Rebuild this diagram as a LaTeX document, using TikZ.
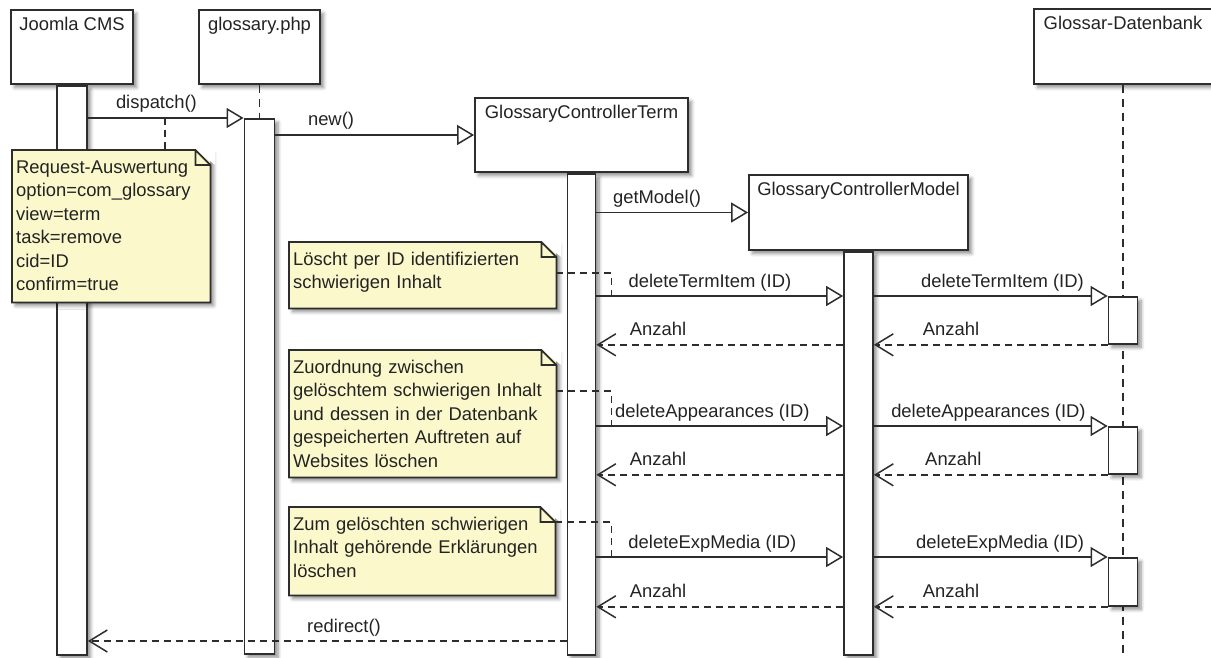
\documentclass[tikz,border=0pt]{standalone}
\usepackage{fontspec}
\setmainfont{Liberation Sans}
\usetikzlibrary{arrows.meta}
\usetikzlibrary{shadows.blur}

\definecolor{notefill}{RGB}{251,248,204}
\definecolor{linec}{RGB}{45,45,45}
\definecolor{txtc}{RGB}{35,35,35}

\tikzset{
  boxshadow/.style={blur shadow={shadow xshift=3.5pt,shadow yshift=-3.5pt,shadow blur radius=3.5pt,shadow blur steps=6,shadow opacity=45}},
  head/.style={draw=linec,line width=1.9pt,fill=white,boxshadow},
  headlabel/.style={anchor=north,yshift=-8pt,inner sep=0pt},
  actbar/.style={draw=linec,line width=1.8pt,fill=white,minimum width=30pt,anchor=north,inner sep=0pt,boxshadow},
  lifeline/.style={draw=linec,line width=1.6pt,dash pattern=on 8pt off 6pt},
  call/.style={draw=linec,line width=1.5pt,-{Triangle[open,length=17pt,width=20pt]}},
  reply/.style={draw=linec,line width=1.5pt,dash pattern=on 7pt off 5pt,-{Straight Barb[length=18pt,width=22pt]}},
  msg/.style={anchor=base,yshift=9pt,inner sep=0pt},
  note/.style={fill=notefill,boxshadow,anchor=north west,align=left,inner xsep=4pt,inner ysep=10pt,text height=13pt},
  noteline/.style={draw=linec,line width=1.7pt},
  notelink/.style={draw=linec,line width=1.5pt,dash pattern=on 7pt off 5pt}
}

\begin{document}
\begin{tikzpicture}[x=1pt,y=-1pt,text=txtc,font=\fontsize{18.4}{23.5}\selectfont]
\useasboundingbox (0,0) rectangle (1211,658);

% message rows
\coordinate (tdispatch) at (0,118);
\coordinate (tterm) at (0,296);
\coordinate (tapp) at (0,426);
\coordinate (tmedia) at (0,557);
\coordinate (tredirect) at (0,641);
\coordinate (dbfoot) at (1123,658);

% lifeline heads
\node[head,minimum width=122pt,minimum height=74pt,label={[headlabel]north:Joomla CMS}] (cms) at (72,47) {};
\node[head,minimum width=121pt,minimum height=74pt,label={[headlabel]north:glossary.php}] (php) at (259.5,47) {};
\node[head,minimum width=213pt,minimum height=74pt,label={[headlabel]north:GlossaryControllerTerm}] (gct) at (581.5,135) {};
\node[head,minimum width=219pt,minimum height=75pt,label={[headlabel]north:GlossaryControllerModel}] (gcm) at (858.5,212.5) {};
\node[head,minimum width=178pt,minimum height=75pt,label={[headlabel]north:Glossar-Datenbank}] (db) at (1123,46.5) {};

\draw[lifeline] (php.south) -- (php.south |- tdispatch);
\draw[lifeline] (db.south) -- (dbfoot);

% activations
\node[actbar,minimum height=569pt] (cmsbar) at (cms.south) {};
\node[actbar,minimum height=535pt] (phpbar) at (php.south |- tdispatch) {};
\node[actbar,minimum width=28pt,minimum height=481pt] (gctbar) at (gct.south) {};
\node[actbar,minimum width=29pt,minimum height=403pt] (gcmbar) at (gcm.south) {};
\node[actbar,minimum width=29pt,minimum height=47pt] (dbA) at (db.south |- tterm) {};
\node[actbar,minimum width=29pt,minimum height=47pt] (dbB) at (db.south |- tapp) {};
\node[actbar,minimum width=29pt,minimum height=48pt] (dbC) at (db.south |- tmedia) {};

% notes
\node[note,text width=190pt,text depth=119pt] (req) at (12,150)
  {Request-Auswertung\\option=com\_glossary\\view=term\\task=remove\\cid=ID\\confirm=true};
\node[note,text width=259pt,text depth=33pt] (noteA) at (289,242)
  {Löscht per ID identifizierten\\schwierigen Inhalt};
\node[note,text width=259pt,text depth=94pt] (noteB) at (289,350)
  {Zuordnung zwischen\\gelöschtem schwierigen Inhalt\\und dessen in der Datenbank\\gespeicherten Auftreten auf\\Websites löschen};
\node[note,text width=258pt,text depth=55pt] (noteC) at (289,507)
  {Zum gelöschten schwierigen\\Inhalt gehörende Erklärungen\\löschen};
\foreach \n in {req,noteA,noteB,noteC} {
  \fill[white] ([xshift=-15pt]\n.north east) -- ([xshift=5pt]\n.north east) -- ([xshift=5pt,yshift=-15pt]\n.north east) -- cycle;
  \draw[noteline] (\n.south west) -- (\n.north west) -- ([xshift=-15pt]\n.north east)
    -- ([yshift=-15pt]\n.north east) -- (\n.south east) -- cycle
    ([xshift=-15pt]\n.north east) |- ([yshift=-15pt]\n.north east);
}

% calls and replies
\draw[call] (cmsbar.east |- tdispatch) -- node[msg,pos=.44] {dispatch()} (phpbar.north west);
\draw[call] (phpbar.east |- gct.west) -- node[msg,pos=.28] {new()} (gct.west);
\draw[call] (gctbar.east |- gcm.west) -- node[msg,pos=.4] {getModel()} (gcm.west);

\draw[call] (gctbar.east |- dbA.north) -- node[msg,pos=.46] {deleteTermItem (ID)} (gcmbar.west |- dbA.north);
\draw[call] (gcmbar.east |- dbA.north) -- node[msg,pos=.55] {deleteTermItem (ID)} (dbA.north west);
\draw[reply] (dbA.south west) -- node[msg,pos=.67] {Anzahl} (gcmbar.east |- dbA.south);
\draw[reply] (gcmbar.west |- dbA.south) -- node[msg,pos=.75] {Anzahl} (gctbar.east |- dbA.south);

\draw[call] (gctbar.east |- dbB.north) -- node[msg,pos=.47] {deleteAppearances (ID)} (gcmbar.west |- dbB.north);
\draw[call] (gcmbar.east |- dbB.north) -- node[msg,pos=.49] {deleteAppearances (ID)} (dbB.north west);
\draw[reply] (dbB.south west) -- node[msg,pos=.66] {Anzahl} (gcmbar.east |- dbB.south);
\draw[reply] (gcmbar.west |- dbB.south) -- node[msg,pos=.75] {Anzahl} (gctbar.east |- dbB.south);

\draw[call] (gctbar.east |- dbC.north) -- node[msg,pos=.47] {deleteExpMedia (ID)} (gcmbar.west |- dbC.north);
\draw[call] (gcmbar.east |- dbC.north) -- node[msg,pos=.54] {deleteExpMedia (ID)} (dbC.north west);
\draw[reply] (dbC.south west) -- node[msg,pos=.67] {Anzahl} (gcmbar.east |- dbC.south);
\draw[reply] (gcmbar.west |- dbC.south) -- node[msg,pos=.75] {Anzahl} (gctbar.east |- dbC.south);

\draw[reply] (gctbar.west |- tredirect) -- node[msg,pos=.465] {redirect()} (cmsbar.east |- tredirect);

% note anchors
\coordinate (dsp) at (165,118);
\draw[notelink] (dsp) -- (dsp |- req.north);
\draw[notelink] ([yshift=-31pt]noteA.north east) -| ([xshift=15pt]gctbar.east |- dbA.north);
\draw[notelink] ([yshift=-41pt]noteB.north east) -| ([xshift=15pt]gctbar.east |- dbB.north);
\draw[notelink] ([yshift=-15pt]noteC.north east) -| ([xshift=15pt]gctbar.east |- dbC.north);
\end{tikzpicture}
\end{document}
